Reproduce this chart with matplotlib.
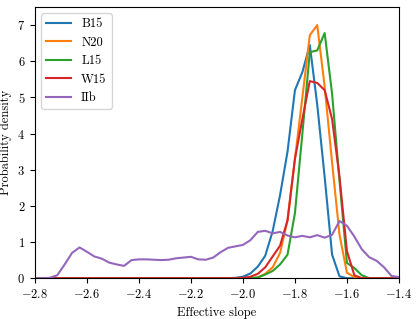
import numpy as np
import matplotlib
matplotlib.use("Agg")
import matplotlib.pyplot as plt

plt.rcParams['font.family'] = 'serif'
plt.rcParams['font.serif'] = ['cmr10', 'DejaVu Serif']
plt.rcParams['mathtext.fontset'] = 'cm'
plt.rcParams['axes.formatter.use_mathtext'] = True
plt.rcParams['font.size'] = 9

# evaluation grid of the density estimates
slope = np.linspace(-2.8, -1.4, 50)

# densities, one value per grid point
b15 = [0] * 27 + [0.01, 0.04, 0.13, 0.32, 0.62, 1.3, 2.3, 3.5, 5.2, 5.7, 6.45,
                  4.8, 2.8, 0.65, 0.05] + [0] * 8
n20 = [0] * 30 + [0.02, 0.12, 0.3, 0.7, 1.6, 3.3, 5.0, 6.72, 7.0, 5.3, 3.2,
                  1.2, 0.15, 0.03] + [0] * 6
l15 = [0] * 30 + [0.02, 0.1, 0.2, 0.38, 0.65, 1.8, 4.0, 6.25, 6.3, 6.78, 5.1,
                  2.7, 0.42, 0.28, 0.08] + [0] * 5
w15 = [0] * 28 + [0.01, 0.04, 0.12, 0.3, 0.6, 0.9, 1.6, 3.3, 4.4, 5.45, 5.4,
                  5.2, 4.4, 2.8, 0.75, 0.08] + [0] * 6
iib = [0, 0, 0.01, 0.08, 0.38, 0.70, 0.85, 0.73, 0.60, 0.54, 0.43, 0.38, 0.34,
       0.50, 0.52, 0.52, 0.51, 0.50, 0.51, 0.55, 0.57, 0.59, 0.52, 0.51, 0.57,
       0.72, 0.84, 0.88, 0.92, 1.05, 1.28, 1.31, 1.24, 1.28, 1.18, 1.13, 1.17,
       1.13, 1.19, 1.12, 1.20, 1.58, 1.45, 1.15, 0.80, 0.58, 0.48, 0.30, 0.06,
       0.03]

labels = ['B15', 'N20', 'L15', 'W15', 'IIb']

fig = plt.figure(figsize=(4.16, 3.19), dpi=100)
ax = fig.add_axes([0.084, 0.128, 0.875, 0.85])
for y, lab in zip([b15, n20, l15, w15, iib], labels):
    ax.plot(slope, y, label=lab)

ax.set_xlim(-2.8, -1.4)
ax.set_ylim(0, 7.5)
ax.set_xlabel('Effective slope')
ax.set_ylabel('Probability density')
ax.legend(loc='upper left')
fig.savefig('out.png', dpi=100)
